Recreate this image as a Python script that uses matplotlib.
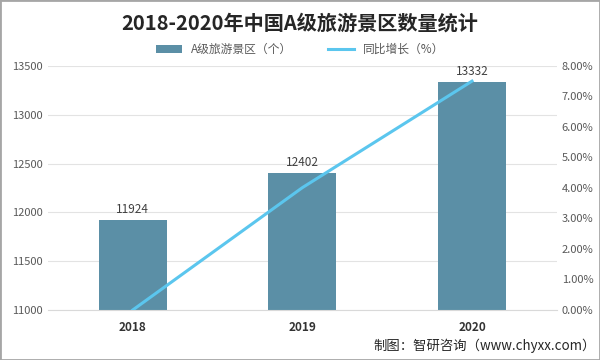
import matplotlib
matplotlib.use('Agg')
import matplotlib.pyplot as plt
from matplotlib.ticker import FuncFormatter
from matplotlib.patches import Rectangle

plt.rcParams['font.family'] = ['Noto Sans CJK SC', 'DejaVu Sans']

years = ['2018', '2019', '2020']
counts = [11924, 12402, 13332]
growth = [0.0, 4.01, 7.50]

bar_color = '#5b8fa6'
line_color = '#5bc6ee'

fig = plt.figure(figsize=(6, 3.6), dpi=100)
ax = fig.add_axes([0.08, 0.139, 0.848, 0.678])
x = range(len(years))

bars = ax.bar(x, counts, width=0.4, color=bar_color, label='A级旅游景区（个）', zorder=2)
for xi, v in zip(x, counts):
    ax.text(xi, v + 40, str(v), ha='center', va='bottom', fontsize=8.5, color='#404040')

ax.set_ylim(11000, 13500)
ax.set_yticks(range(11000, 13501, 500))
ax.set_xlim(-0.5, 2.5)
ax.set_xticks(list(x))
ax.set_xticklabels(years, fontsize=8.5, fontweight='bold', color='#333333')
ax.grid(axis='y', color='#e3e3e3', linewidth=0.8, zorder=0)
ax.tick_params(axis='y', labelsize=8, colors='#595959', length=0)
ax.tick_params(axis='x', length=0, pad=8)
for s in ['top', 'right', 'left']:
    ax.spines[s].set_visible(False)
ax.spines['bottom'].set_color('#d9d9d9')

ax2 = ax.twinx()
ln, = ax2.plot(list(x), growth, color=line_color, linewidth=2.2, label='同比增长（%）', zorder=3)
ax2.set_ylim(0, 8)
ax2.set_yticks(range(0, 9))
ax2.yaxis.set_major_formatter(FuncFormatter(lambda v, p: '%.2f%%' % v))
ax2.tick_params(axis='y', labelsize=8, colors='#595959', length=0)
for s in ['top', 'right', 'left', 'bottom']:
    ax2.spines[s].set_visible(False)

fig.text(0.5, 0.935, '2018-2020年中国A级旅游景区数量统计', ha='center', va='center',
         fontsize=14.5, fontweight='bold', color='#262626')
fig.legend([bars, ln], ['A级旅游景区（个）', '同比增长（%）'], loc='center',
           bbox_to_anchor=(0.5, 0.862), ncol=2, frameon=False, fontsize=8.5,
           handlelength=2.2, columnspacing=3, labelcolor='#595959')
fig.text(0.993, 0.04, '制图：智研咨询（www.chyxx.com）', ha='right', va='center',
         fontsize=9.6, color='#262626')

fig.patches.append(Rectangle((0, 0), 1, 1, transform=fig.transFigure, fill=False,
                             edgecolor='#a6a6a6', linewidth=2))

fig.savefig('out.png', dpi=100)
